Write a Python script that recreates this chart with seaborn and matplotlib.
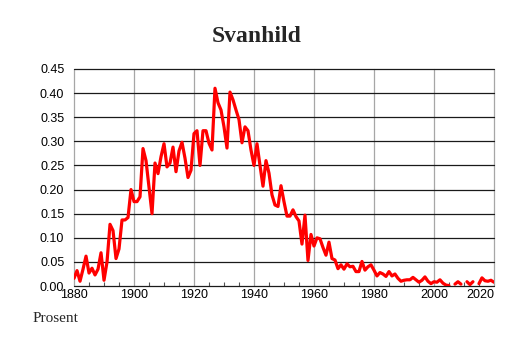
import numpy as np
import pandas as pd
import matplotlib
matplotlib.use("Agg")
import matplotlib.pyplot as plt
import seaborn as sns

# Share of the population named Svanhild, per year (percent); NaN = not reported
years = np.arange(1880, 2021)
share = [
    0.016, 0.032, 0.010, 0.035, 0.062, 0.027, 0.037, 0.023, 0.035, 0.069,  # 1880s
    0.012, 0.050, 0.128, 0.115, 0.057, 0.077, 0.137, 0.137, 0.142, 0.200,  # 1890s
    0.175, 0.175, 0.185, 0.285, 0.260, 0.205, 0.150, 0.255, 0.233, 0.268,  # 1900s
    0.295, 0.247, 0.255, 0.288, 0.237, 0.280, 0.298, 0.265, 0.225, 0.240,  # 1910s
    0.316, 0.322, 0.250, 0.322, 0.322, 0.296, 0.282, 0.410, 0.380, 0.365,  # 1920s
    0.330, 0.286, 0.402, 0.386, 0.365, 0.345, 0.297, 0.330, 0.322, 0.282,  # 1930s
    0.250, 0.295, 0.250, 0.207, 0.260, 0.234, 0.189, 0.168, 0.165, 0.208,  # 1940s
    0.175, 0.145, 0.145, 0.158, 0.144, 0.135, 0.087, 0.147, 0.053, 0.107,  # 1950s
    0.083, 0.100, 0.098, 0.080, 0.064, 0.091, 0.057, 0.054, 0.036, 0.044,  # 1960s
    0.035, 0.046, 0.040, 0.041, 0.030, 0.030, 0.051, 0.033, 0.040, 0.044,  # 1970s
    0.033, 0.021, 0.028, 0.025, 0.020, 0.030, 0.021, 0.025, 0.016, 0.010,  # 1980s
    0.012, 0.013, 0.013, 0.018, 0.013, 0.008, 0.012, 0.019, 0.010, 0.005,  # 1990s
    0.009, 0.008, 0.013, 0.006, 0.002, 0.001, np.nan, 0.004, 0.009, 0.004,  # 2000s
    np.nan, 0.009, 0.003, 0.009, np.nan, 0.005, 0.017, 0.011, 0.010, 0.012,  # 2010s
    0.008,                                                                  # 2020
]
y_ticks = [0.00, 0.05, 0.10, 0.15, 0.20, 0.25, 0.30, 0.35, 0.40, 0.45]
x_ticks = [1880, 1900, 1920, 1940, 1960, 1980, 2000, 2020]
title = "Svanhild"
unit_label = "Prosent"

df = pd.DataFrame({"year": years, "share": share})
# split into unbroken runs so missing years leave gaps in the line
df["run"] = df["share"].isna().cumsum()
df = df.dropna()

sns.set_style("white")
plt.rcParams["font.family"] = ["Liberation Sans", "DejaVu Sans"]

fig = plt.figure(figsize=(5.14, 3.43), dpi=100)
ax = fig.add_axes([0.144, 0.166, 0.817, 0.633])

for x in x_ticks:
    ax.axvline(x, color="#a6a6a6", lw=0.9, zorder=1, clip_on=False)
for y in y_ticks:
    ax.axhline(y, color="#1a1a1a", lw=0.9, zorder=1, clip_on=False)

sns.lineplot(data=df, x="year", y="share", units="run", estimator=None,
             color="#ff0000", linewidth=2.3, ax=ax, zorder=3, legend=False)

ax.set_xlim(1880, 2020)
ax.set_ylim(0, 0.45)
for s in ax.spines.values():
    s.set_visible(False)

ax.set_yticks(y_ticks)
ax.set_yticklabels([f"{v:.2f}" for v in y_ticks])
ax.set_xticks(x_ticks)
ax.set_xticklabels([str(v) for v in x_ticks])
ax.set_xticks(np.arange(1880, 2021, 5), minor=True)
ax.tick_params(axis="y", length=0, pad=7, labelsize=9, colors="black")
ax.tick_params(axis="x", which="major", length=0, pad=2, labelsize=9, colors="black")
ax.tick_params(axis="x", which="minor", direction="in", length=3, width=0.8,
               color="#555555", bottom=True)
labels = ax.get_xticklabels()
labels[0].set_horizontalalignment("center")
labels[-1].set_horizontalalignment("right")
ax.set_xlabel("")
ax.set_ylabel("")

fig.text(0.5, 0.895, title, ha="center", va="center", fontsize=17,
         fontweight="bold", family=["Liberation Serif", "DejaVu Serif"])
fig.text(0.064, 0.072, unit_label, ha="left", va="center", fontsize=11,
         family=["Liberation Serif", "DejaVu Serif"])

fig.savefig("out.png", dpi=100)
